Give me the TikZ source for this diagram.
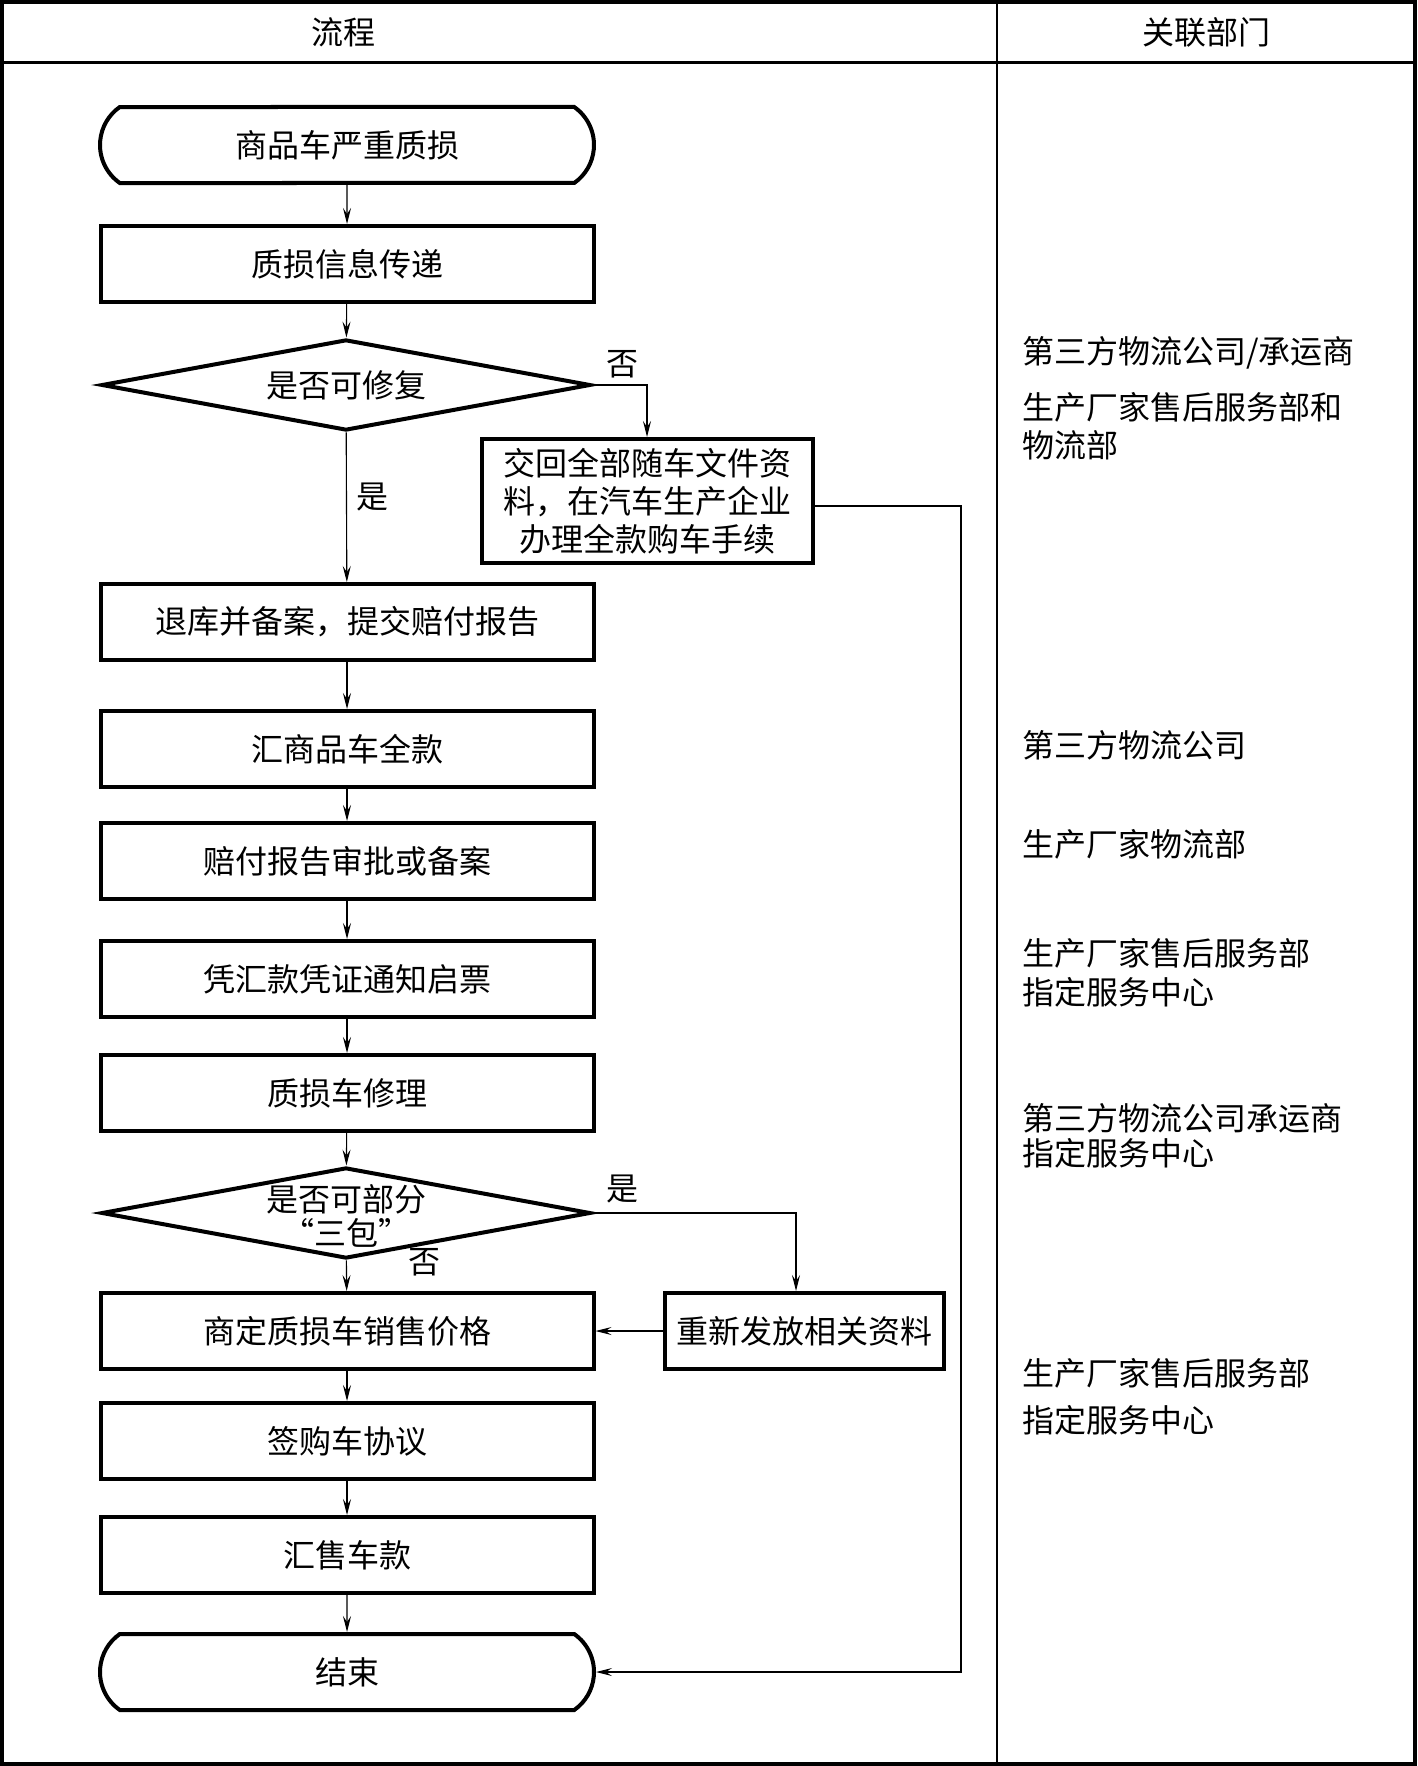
\documentclass[tikz,border=0pt]{standalone}
\usepackage{fontspec}
\setmainfont{Noto Sans CJK SC}
\usetikzlibrary{arrows.meta,shapes.geometric,shapes.misc}
\tikzset{
  flowtext/.style={font=\fontsize{32}{40}\selectfont},
  procbox/.style={draw, line width=4pt, rectangle, minimum width=493pt, minimum height=76pt, inner sep=0pt, flowtext},
  sidebox/.style={draw, line width=4pt, rectangle, inner sep=0pt, flowtext},
  termbox/.style={draw, line width=4pt, rounded rectangle, rounded rectangle arc length=110, minimum width=494pt, minimum height=76pt, inner sep=0pt, flowtext},
  decbox/.style={draw, line width=4pt, diamond, aspect=5.4, minimum width=489pt, minimum height=91pt, inner sep=0pt},
  conn/.style={line width=1.1pt, -{Stealth[length=16pt,width=8pt,inset=6pt]}},
  lbl/.style={flowtext, inner sep=0pt},
  dept/.style={font=\fontsize{32}{40}\selectfont, anchor=west, inner sep=0pt, align=left}
}
\begin{document}
\begin{tikzpicture}[x=1pt,y=-1pt]
\useasboundingbox (0,0) rectangle (1417,1766);
% frame
\draw[line width=4pt] (2,2) rectangle (1415,1764);
\draw[line width=3pt] (0,63) -- (1417,63);
\draw[line width=1.3pt] (997,0) -- (997,1766);
\node[lbl] (h1) at (343,32) {流程};
\node[lbl] (h2) at (1206,32) {关联部门};

% flow nodes
\node[termbox] (start) at (347,145) {商品车严重质损};
\node[procbox] (info) at (347,264) {质损信息传递};
\node[decbox] (d1) at (346,385) {};
\node[lbl] (d1t) at (d1) {是否可修复};
\node[sidebox, minimum width=331pt, minimum height=124pt, align=center, text width=300pt] (ret) at (647,501) {交回全部随车文件资\\[-2pt]料，在汽车生产企业\\[-2pt]办理全款购车手续};
\node[procbox] (back) at (347,622) {退库并备案，提交赔付报告};
\node[procbox] (pay) at (347,749) {汇商品车全款};
\node[procbox] (appr) at (347,861) {赔付报告审批或备案};
\node[procbox] (tick) at (347,979) {凭汇款凭证通知启票};
\node[procbox] (rep) at (347,1093) {质损车修理};
\node[decbox] (d2) at (346,1213) {};
\node[lbl, align=center] (d2t) at ([yshift=-3pt]d2.center) {是否可部分\\[-6pt]“三包”};
\node[procbox] (price) at (347,1331) {商定质损车销售价格};
\node[sidebox, minimum width=279pt, minimum height=76pt] (redo) at (804,1331) {重新发放相关资料};
\node[procbox] (sign) at (347,1441) {签购车协议};
\node[procbox] (cash) at (347,1555) {汇售车款};
\node[termbox] (fin) at (347,1672) {结束};

% connectors
\draw[conn] (start) -- (info);
\draw[conn] (info) -- (d1);
\draw[conn] (d1) -- (back);
\draw[conn] (d1.east) -| (ret.north);
\draw[conn] (back) -- (pay);
\draw[conn] (pay) -- (appr);
\draw[conn] (appr) -- (tick);
\draw[conn] (tick) -- (rep);
\draw[conn] (rep) -- (d2);
\draw[conn] (d2) -- (price);
\coordinate (r2) at (796,1213);
\draw[conn] (d2.east) -- (r2) -- (r2 |- redo.north);
\draw[conn] (redo) -- (price);
\draw[conn] (price) -- (sign);
\draw[conn] (sign) -- (cash);
\draw[conn] (cash) -- (fin);
\coordinate (rr) at (961,506);
\draw[conn] (ret.east |- rr) -- (rr) |- (fin.east);

% branch labels
\node[lbl] (l1) at (622,364) {否};
\node[lbl] (l2) at (372,497) {是};
\node[lbl] (l3) at (622,1189) {是};
\node[lbl] (l4) at (424,1262) {否};

% department column
\node[dept] (t1) at (1022,353) {第三方物流公司/承运商};
\node[dept] (t2) at (1022,407) {生产厂家售后服务部和};
\node[dept] (t3) at (1022,445) {物流部};
\node[dept] (t4) at (1022,745) {第三方物流公司};
\node[dept] (t5) at (1022,844) {生产厂家物流部};
\node[dept] (t6) at (1022,953) {生产厂家售后服务部};
\node[dept] (t7) at (1022,992) {指定服务中心};
\node[dept] (t8) at (1022,1118) {第三方物流公司承运商};
\node[dept] (t9) at (1022,1153) {指定服务中心};
\node[dept] (t10) at (1022,1373) {生产厂家售后服务部};
\node[dept] (t11) at (1022,1420) {指定服务中心};
\end{tikzpicture}
\end{document}
